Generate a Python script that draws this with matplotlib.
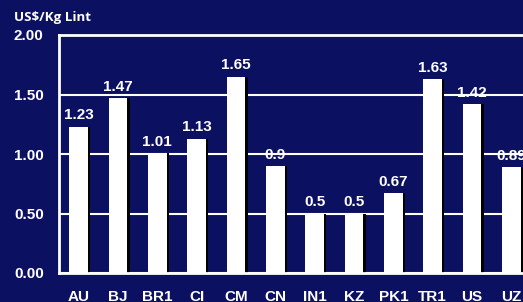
import matplotlib.pyplot as plt
import numpy as np

countries = ['AU', 'BJ', 'BR1', 'CI', 'CM', 'CN', 'IN1', 'KZ', 'PK1', 'TR1', 'US', 'UZ']
cost = [1.23, 1.47, 1.01, 1.13, 1.65, 0.9, 0.5, 0.5, 0.67, 1.63, 1.42, 0.89]
labels = ['1.23', '1.47', '1.01', '1.13', '1.65', '0.9', '0.5', '0.5', '0.67', '1.63', '1.42', '0.89']
yticks = [0.0, 0.5, 1.0, 1.5, 2.0]

bg = '#0c1060'
plt.rcParams['font.family'] = ['Liberation Sans', 'DejaVu Sans']

fig = plt.figure(figsize=(5.23, 3.02), dpi=100, facecolor=bg)
# axes runs past the right edge, like the original slide crop
ax = fig.add_axes([59/523, 29/302, 472/523, 238/302], facecolor=bg)

x = np.arange(len(countries))
w = 0.47
# little black drop shadow on the right of each bar
ax.bar(x + 0.06, cost, width=w, color='black', zorder=2)
ax.bar(x, cost, width=w, color='white', zorder=3)

for xi, v, t in zip(x, cost, labels):
    ax.text(xi, v + 0.035, t, ha='center', va='bottom', color='white',
            fontsize=11, fontweight='bold', zorder=4)

ax.set_xlim(-0.5, 11.5)
ax.set_ylim(0, 2.0)
ax.set_yticks(yticks)
ax.set_yticklabels([f'{v:.2f}' for v in yticks])
ax.set_xticks(x)
ax.set_xticklabels(countries)
ax.yaxis.grid(True, color='white', linewidth=1.5, zorder=1)
ax.set_axisbelow(True)

ax.tick_params(axis='both', length=0, colors='white', labelsize=11)
ax.tick_params(axis='y', pad=11)
ax.tick_params(axis='x', pad=12)
for lbl in ax.get_xticklabels() + ax.get_yticklabels():
    lbl.set_fontweight('bold')
for s in ax.spines.values():
    s.set_color('white')
    s.set_linewidth(2)

fig.text(14/523, 1 - 17/302, 'US$/Kg Lint', color='white', fontsize=9.6,
         fontweight='bold', va='center', ha='left', family='Open Sans')

fig.savefig('out.png', dpi=100, facecolor=bg)
